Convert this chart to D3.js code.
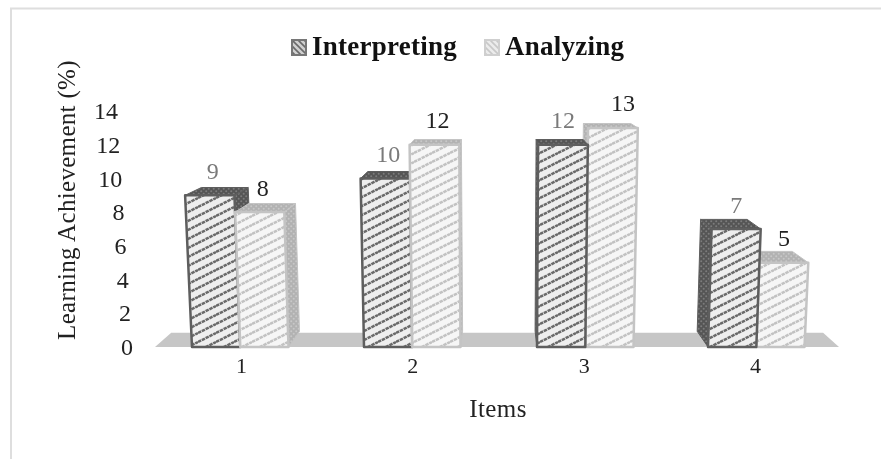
<!DOCTYPE html>
<html><head><meta charset="utf-8">
<script src="https://cdn.jsdelivr.net/npm/d3@7/dist/d3.min.js"></script>
<style>html,body{margin:0;padding:0;background:#fff}svg{display:block;filter:blur(0.35px)}text{font-family:"Liberation Serif",serif}</style>
</head><body><svg id="c" width="881" height="459"></svg>
<script>
const categories = ["1","2","3","4"];
const seriesNames = ["Interpreting","Analyzing"];
const interpreting = [9,10,12,7];
const analyzing = [8,12,13,5];
const yTicks = [0,2,4,6,8,10,12,14];
const allValues = [interpreting, analyzing];

const svg = d3.select("#c");
const y = d3.scaleLinear().domain([0,14]).range([347,111]);
const x0 = d3.scaleBand().domain(categories).range([192,880]);
const barW = 48.25;

// perspective
const VP=[500,45], depth=0.052, k=0.0025;
const proj=(px,v,z)=>{
  const fx=px+(px-VP[0])*k*v, fy=y(v);
  return [fx+(VP[0]-fx)*depth*z, fy+(VP[1]-fy)*depth*z];
};
const line=pts=>"M"+pts.map(p=>p.map(n=>n.toFixed(1)).join(",")).join("L")+"Z";

// patterns
const defs=svg.append("defs");
function stripe(id,bg,fg){
  const p=defs.append("pattern").attr("id",id).attr("patternUnits","userSpaceOnUse")
    .attr("width",18).attr("height",9);
  p.append("rect").attr("width",18).attr("height",9).attr("fill",bg);
  [[0,9,18,0],[0,18,18,9],[0,0,18,-9]].forEach(a=>{
    p.append("line").attr("x1",a[0]).attr("y1",a[1]).attr("x2",a[2]).attr("y2",a[3])
     .attr("stroke",fg).attr("stroke-width",2.5).attr("stroke-dasharray","3.5 0.75");
  });
}
function dots(id,bg,fg){
  const p=defs.append("pattern").attr("id",id).attr("patternUnits","userSpaceOnUse")
    .attr("width",5).attr("height",5);
  p.append("rect").attr("width",5).attr("height",5).attr("fill",bg);
  p.append("circle").attr("cx",1.2).attr("cy",1.2).attr("r",1).attr("fill",fg);
  p.append("circle").attr("cx",3.7).attr("cy",3.7).attr("r",1).attr("fill",fg);
}
function legendFill(id,bg,fg){
  const p=defs.append("pattern").attr("id",id).attr("patternUnits","userSpaceOnUse")
    .attr("width",6).attr("height",6);
  p.append("rect").attr("width",6).attr("height",6).attr("fill",bg);
  p.append("path").attr("d","M-1,-1L7,7M-1,5L1,7M5,-1L7,1").attr("stroke",fg).attr("stroke-width",1.6);
}
stripe("s0","#eeeeee","#6a6a6a"); stripe("s1","#f6f6f6","#c2c2c2");
dots("d0","#555","#7c7c7c"); dots("d1","#b2b2b2","#c8c8c8");
legendFill("l0","#d0d0d0","#6a6a6a"); legendFill("l1","#ececec","#c8c8c8");
const styles=[{front:"url(#s0)",side:"url(#d0)",stroke:"#5e5e5e",width:2.5,legend:"url(#l0)",legendStroke:"#777"},
              {front:"url(#s1)",side:"url(#d1)",stroke:"#c4c4c4",width:2.5,legend:"url(#l1)",legendStroke:"#cfcfcf"}];

// frame
svg.append("path").attr("d","M11,459V8.5H881").attr("fill","none").attr("stroke","#dedede").attr("stroke-width",2);

// floor
const floorDepth=0.047;
const fb=[[155,347],[839,347]];
const fback=fb.map(p=>[p[0]+(VP[0]-p[0])*floorDepth,p[1]+(VP[1]-p[1])*floorDepth]);
svg.append("path").attr("d",line([fb[0],fb[1],fback[1],fback[0]])).attr("fill","#c6c6c6");

// bars
const bars=[];
categories.forEach((c,i)=>{
  [0,1].forEach(s=>{
    const xl=192+i*x0.step()+(i==2?1:0)+s*barW;
    bars.push({c,s,v:allValues[s][i],xl,xr:xl+barW,mid:xl+barW/2});
  });
});
bars.sort((a,b)=>Math.abs(b.mid-VP[0])-Math.abs(a.mid-VP[0]));
const labelNudge={"3|1":10};
bars.forEach(b=>{
  const st=styles[b.s];
  const g=svg.append("g").attr("stroke",st.stroke).attr("stroke-linejoin","round");
  const sx=b.mid<VP[0]?b.xr:b.xl;
  g.append("path").attr("d",line([proj(sx,0,0),proj(sx,b.v,0),proj(sx,b.v,1),proj(sx,0,1)]))
    .attr("fill",st.side).attr("stroke-width",1);
  g.append("path").attr("d",line([proj(b.xl,b.v,0),proj(b.xr,b.v,0),proj(b.xr,b.v,1),proj(b.xl,b.v,1)]))
    .attr("fill",st.side).attr("stroke-width",1);
  g.append("path").attr("d",line([proj(b.xl,0,0),proj(b.xr,0,0),proj(b.xr,b.v,0),proj(b.xl,b.v,0)]))
    .attr("fill",st.front).attr("stroke-width",st.width);
  const t=proj((b.xl+b.xr)/2,b.v,0);
  svg.append("text").attr("x",t[0]+(b.mid<VP[0]?3:0)+(labelNudge[b.c+"|"+b.s]||0)).attr("y",t[1]-16.5)
    .attr("text-anchor","middle").attr("font-size",24)
    .attr("fill",b.s?"#222":"#7a7a7a").text(b.v);
});

// axes
const ya=svg.append("g").attr("transform","translate(133,0)")
  .call(d3.axisLeft(y).tickValues(yTicks).tickSize(0).tickPadding(0).tickFormat(d3.format("d")));
ya.select(".domain").remove();
ya.selectAll("text").attr("font-size",24).attr("fill","#222")
  .attr("x",d=>-d*1.07).style("font-family",'"Liberation Serif",serif');

const xb=d3.scalePoint().domain(categories).range([241,755]);
const xa=svg.append("g").attr("transform","translate(0,357)")
  .call(d3.axisBottom(xb).tickSize(0).tickPadding(0));
xa.select(".domain").remove();
xa.selectAll("text").attr("font-size",22).attr("fill","#222").style("font-family",'"Liberation Serif",serif');

svg.append("text").attr("x",498).attr("y",417).attr("text-anchor","middle").attr("font-size",25)
  .attr("letter-spacing",0.4).attr("fill","#222").text("Items");
svg.append("text").attr("transform","translate(75,200) rotate(-90)").attr("text-anchor","middle").attr("font-size",25)
  .attr("letter-spacing",0.32).attr("fill","#222").text("Learning Achievement (%)");

// legend
const lx=[291,484];
seriesNames.forEach((n,i)=>{
  svg.append("rect").attr("x",lx[i]+1).attr("y",40).attr("width",14).attr("height",15)
    .attr("fill",styles[i].legend).attr("stroke",styles[i].legendStroke).attr("stroke-width",2);
  svg.append("text").attr("x",lx[i]+21).attr("y",55).attr("font-size",27).attr("font-weight","bold")
    .attr("letter-spacing",0.25).attr("fill","#111").text(n);
});
</script></body></html>
